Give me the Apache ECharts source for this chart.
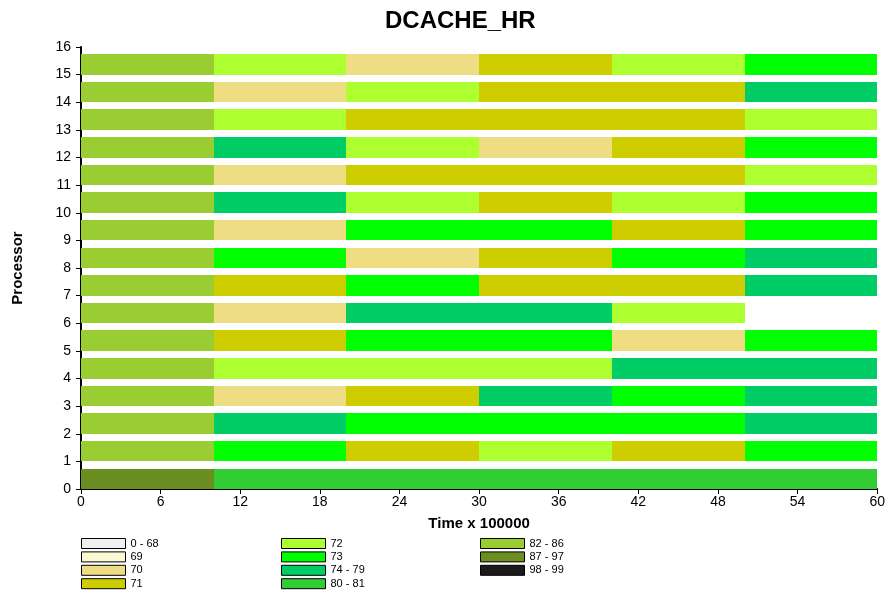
<!DOCTYPE html>
<html>
<head>
<meta charset="utf-8">
<script src="https://cdn.jsdelivr.net/npm/echarts@6/dist/echarts.min.js"></script>
<style>html,body{margin:0;padding:0;background:#fff;}#c{width:888px;height:595px;}</style>
</head>
<body>
<div id="c"></div>
<script>
// ---- data ----
const categories = ['0 - 68','69','70','71','72','73','74 - 79','80 - 81','82 - 86','87 - 97','98 - 99'];
const categoryColors = ['#F0F0F0','#FAFAD2','#EEDD82','#CDCD00','#ADFF2F','#00FF00','#00CD66','#32CD32','#9ACD32','#6B8E23','#1A1A1A'];
const segmentStarts = [0, 10, 20, 30, 40, 50];
const segmentEnds = [10, 20, 30, 40, 50, 60];
const processors = [0,1,2,3,4,5,6,7,8,9,10,11,12,13,14,15];
const xTicks = [0, 6, 12, 18, 24, 30, 36, 42, 48, 54, 60];
const yTicks = [0,1,2,3,4,5,6,7,8,9,10,11,12,13,14,15,16];
// per processor (row), category of each time segment
const row0  = ['87 - 97','80 - 81','80 - 81','80 - 81','80 - 81','80 - 81'];
const row1  = ['82 - 86','73','71','72','71','73'];
const row2  = ['82 - 86','74 - 79','73','73','73','74 - 79'];
const row3  = ['82 - 86','70','71','74 - 79','73','74 - 79'];
const row4  = ['82 - 86','72','72','72','74 - 79','74 - 79'];
const row5  = ['82 - 86','71','73','73','70','73'];
const row6  = ['82 - 86','70','74 - 79','74 - 79','72',null];
const row7  = ['82 - 86','71','73','71','71','74 - 79'];
const row8  = ['82 - 86','73','70','71','73','74 - 79'];
const row9  = ['82 - 86','70','73','73','71','73'];
const row10 = ['82 - 86','74 - 79','72','71','72','73'];
const row11 = ['82 - 86','70','71','71','71','72'];
const row12 = ['82 - 86','74 - 79','72','70','71','73'];
const row13 = ['82 - 86','72','71','71','71','72'];
const row14 = ['82 - 86','70','72','71','71','74 - 79'];
const row15 = ['82 - 86','72','70','71','72','73'];
const rows = [row0,row1,row2,row3,row4,row5,row6,row7,row8,row9,row10,row11,row12,row13,row14,row15];

const BAR_FRAC = 0.74;
const FONT = 'Liberation Sans, Arial, sans-serif';

// build one custom series per category; consecutive identical segments merged into one run
const seriesList = categories.map((cat, ci) => {
  const data = [];
  rows.forEach((row, ri) => {
    let si = 0;
    while (si < row.length) {
      if (row[si] === cat) {
        let sj = si;
        while (sj + 1 < row.length && row[sj + 1] === cat) sj++;
        data.push([segmentStarts[si], segmentEnds[sj], processors[ri]]);
        si = sj + 1;
      } else si++;
    }
  });
  return {
    name: cat,
    type: 'custom',
    itemStyle: { color: categoryColors[ci], borderColor: '#000', borderWidth: 1 },
    encode: { x: [0, 1], y: 2 },
    renderItem: function (params, api) {
      const p0 = api.coord([api.value(0), api.value(2)]);
      const p1 = api.coord([api.value(1), api.value(2) + BAR_FRAC]);
      const x0 = Math.round(p0[0]), x1 = Math.round(p1[0]);
      const yb = Math.round(p0[1]), yt = Math.round(p1[1]);
      return {
        type: 'rect',
        shape: { x: x0, y: yt, width: x1 - x0, height: yb - yt },
        style: { fill: categoryColors[ci], stroke: null }
      };
    },
    data: data,
    z: 1
  };
});

const legendText = { color: '#000', fontSize: 11, fontFamily: FONT };
const legendCommon = {
  orient: 'vertical', icon: 'rect', itemWidth: 44, itemHeight: 10, itemGap: 2.4,
  textStyle: legendText, selectedMode: false, padding: 0,
  itemStyle: { borderColor: '#000', borderWidth: 1 }
};

const chart = echarts.init(document.getElementById('c'), null, { renderer: 'canvas' });
chart.setOption({
  animation: false,
  backgroundColor: '#fff',
  title: {
    text: 'DCACHE_HR', left: 380, top: 4,
    textStyle: { fontSize: 24, fontWeight: 'bold', color: '#000', fontFamily: FONT }
  },
  grid: { left: 81, right: 10, top: 47, bottom: 106, containLabel: false },
  legend: [
    Object.assign({}, legendCommon, { left: 81, top: 538, data: categories.slice(0, 4) }),
    Object.assign({}, legendCommon, { left: 281, top: 538, data: categories.slice(4, 8) }),
    Object.assign({}, legendCommon, { left: 480, top: 538, data: categories.slice(8, 11) })
  ],
  xAxis: {
    type: 'value', min: xTicks[0], max: xTicks[xTicks.length - 1], interval: xTicks[1] - xTicks[0],
    name: 'Time x 100000', nameLocation: 'middle', nameGap: 27,
    nameTextStyle: { fontSize: 15, fontWeight: 'bold', color: '#000', fontFamily: FONT },
    axisLine: { show: true, onZero: false, lineStyle: { color: '#000', width: 2 } },
    axisTick: { show: true, length: 5, lineStyle: { color: '#000', width: 1 } },
    axisLabel: { fontSize: 14, color: '#000', margin: 6, fontFamily: FONT },
    splitLine: { show: false }
  },
  yAxis: {
    type: 'value', min: yTicks[0], max: yTicks[yTicks.length - 1], interval: 1,
    name: 'Processor', nameLocation: 'middle', nameGap: 56, nameRotate: 90,
    nameTextStyle: { fontSize: 15, fontWeight: 'bold', color: '#000', fontFamily: FONT },
    axisLine: { show: true, onZero: false, lineStyle: { color: '#000', width: 2 } },
    axisTick: { show: true, length: 5, lineStyle: { color: '#000', width: 1 } },
    axisLabel: { fontSize: 14, color: '#000', margin: 10, fontFamily: FONT },
    splitLine: { show: false }
  },
  series: seriesList
});
</script>
</body>
</html>
